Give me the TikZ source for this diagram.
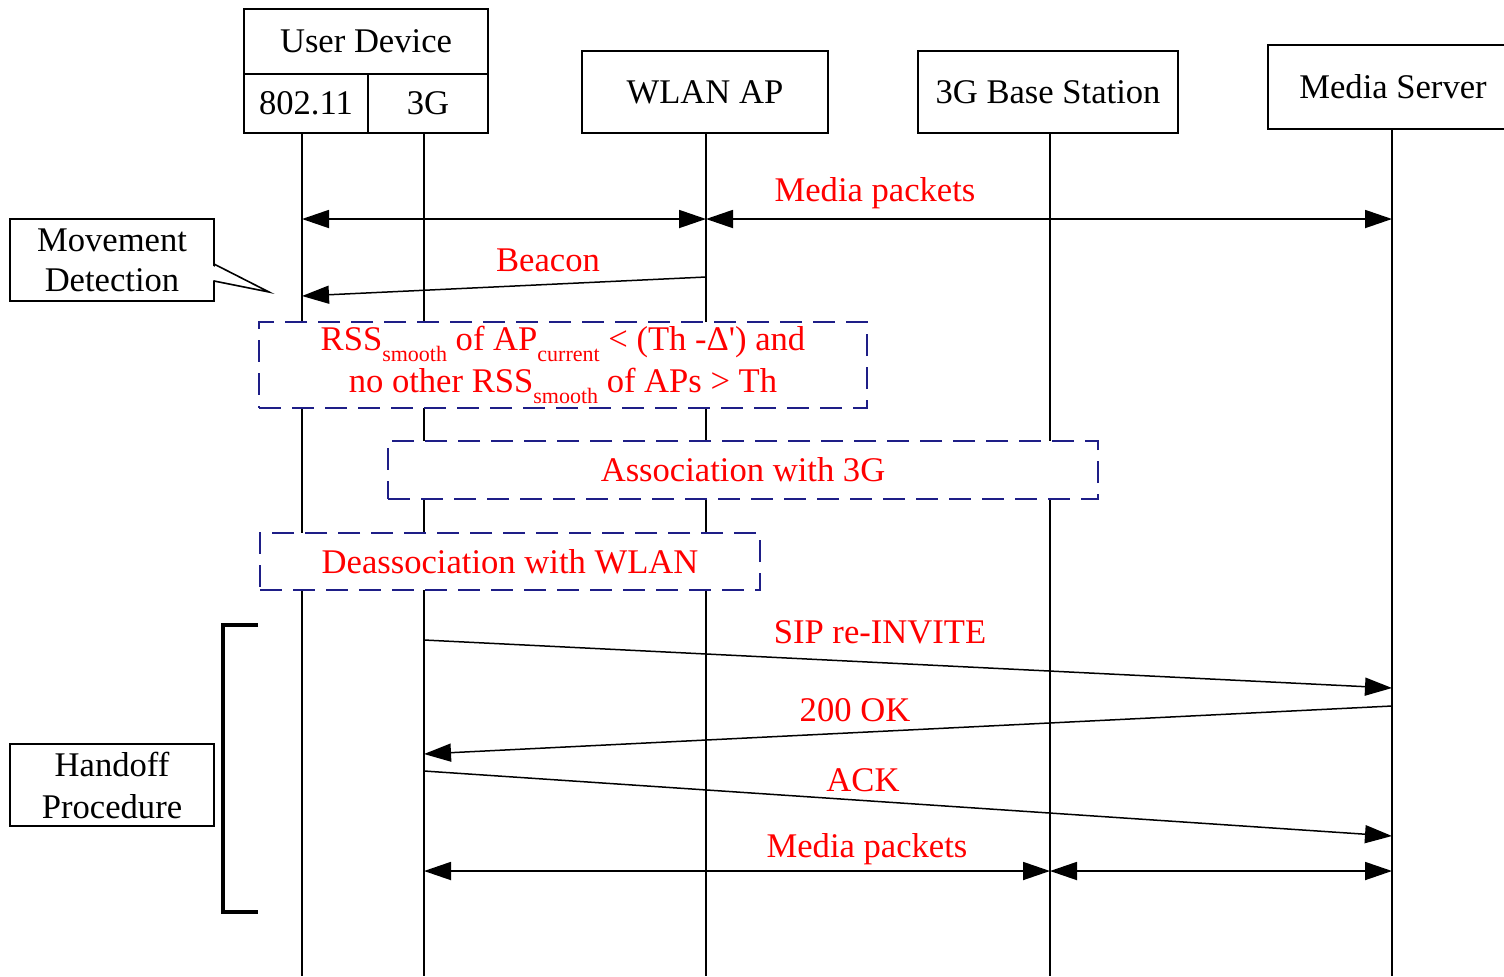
\documentclass[tikz,border=0pt]{standalone}
\usepackage{fontspec}
\setmainfont{Liberation Serif}
\usetikzlibrary{arrows.meta}

\definecolor{msgred}{RGB}{255,0,0}
\definecolor{guardblue}{RGB}{30,30,135}

% lowered small index text, e.g. RSS_smooth
\newcommand{\lowidx}[1]{\raisebox{-0.32em}{\fontsize{11}{11}\selectfont #1}}

\tikzset{
  every node/.style={font=\fontsize{17.3}{20.5}\selectfont},
  headbox/.style={draw, line width=1pt, inner sep=0pt},
  notebox/.style={draw, line width=0.9pt, inner sep=0pt, align=center,
                  minimum width=102pt, minimum height=41pt},
  lifeline/.style={line width=0.8pt},
  tip/.tip={Triangle[length=13.5pt,width=9pt]},
  msg/.style={line width=0.75pt, -tip},
  duplex/.style={line width=0.9pt, tip-tip},
  guard/.style={draw=guardblue, dash pattern=on 11pt off 5.5pt,
                line width=0.9pt, fill=white, inner sep=0pt,
                text=msgred, align=center},
  lbl/.style={text=msgred, anchor=base, inner sep=0pt},
}

\begin{document}
\begin{tikzpicture}[x=0.5pt, y=-0.5pt]
\useasboundingbox (0,0) rectangle (1504,976);

% ---- participants ----
\node[headbox, minimum width=122pt, minimum height=32.5pt] (ud) at (366,41.5) {User Device};
\node[headbox, minimum width=62pt, minimum height=29.5pt] (wifi) at (306,103.5) {802.11};
\node[headbox, minimum width=60pt, minimum height=29.5pt] (umts) at (428,103.5) {3G};
\node[headbox, minimum width=123pt, minimum height=41pt] (ap) at (705,92) {WLAN AP};
\node[headbox, minimum width=130pt, minimum height=41pt] (bs) at (1048,92) {3G Base Station};
\node[headbox, minimum width=125pt, minimum height=42pt] (ms) at (1393,87) {Media Server};

% ---- lifelines ----
\coordinate (wifiT) at (302,133);  \coordinate (wifiB) at (302,976);
\coordinate (umtsT) at (424,133);  \coordinate (umtsB) at (424,976);
\coordinate (apT)   at (706,133);  \coordinate (apB)   at (706,976);
\coordinate (bsT)   at (1050,133); \coordinate (bsB)   at (1050,976);
\coordinate (msT)   at (1392,129); \coordinate (msB)   at (1392,976);
\draw[lifeline] (wifiT) -- (wifiB);
\draw[lifeline] (umtsT) -- (umtsB);
\draw[lifeline] (apT) -- (apB);
\draw[lifeline] (bsT) -- (bsB);
\draw[lifeline] (msT) -- (msB);

% ---- media over WLAN ----
\coordinate (m1a) at (302,219);
\coordinate (m1b) at (706,219);
\coordinate (m1c) at (1392,219);
\draw[duplex] (m1a) -- (m1b);
\draw[duplex] (m1b) -- (m1c);
\node[lbl] (m1l) at (875,201) {Media packets};

% ---- beacon ----
\coordinate (bcS) at (706,277);
\coordinate (bcE) at (302,296);
\draw[msg] (bcS) -- (bcE);
\node[lbl] (bcl) at (548,271) {Beacon};

% ---- movement detection note ----
\node[notebox] (move) at (112,260) {Movement\\[-0.5pt]Detection};
\coordinate (mvA) at (214,264);
\coordinate (mvB) at (214,281);
\coordinate (mvTip) at (269,292);
\fill[white] (212,265.5) -- (266,291.5) -- (212,280) -- cycle;
\draw[line width=0.8pt] (mvA) -- (mvTip) -- (mvB);

% ---- conditions and phases ----
\node[guard, minimum width=304pt, minimum height=43pt] (cond) at (563,365)
  {RSS\lowidx{smooth} of AP\lowidx{current} < (Th -Δ\textquotesingle) and\\[0.5pt]
   no other RSS\lowidx{smooth} of APs > Th};
\node[guard, minimum width=355pt, minimum height=29pt] (assoc) at (743,470)
  {Association with 3G};
\node[guard, minimum width=250pt, minimum height=28.5pt] (deassoc) at (510,561.5)
  {Deassociation with WLAN};

% ---- handoff signalling ----
\coordinate (sipS) at (424,640);  \coordinate (sipE) at (1392,688);
\coordinate (okS)  at (1392,706); \coordinate (okE)  at (424,754);
\coordinate (ackS) at (424,771);  \coordinate (ackE) at (1392,836);
\draw[msg] (sipS) -- (sipE);
\draw[msg] (okS) -- (okE);
\draw[msg] (ackS) -- (ackE);
\node[lbl] (sipl) at (880,643) {SIP re-INVITE};
\node[lbl] (okl)  at (855,721) {200 OK};
\node[lbl] (ackl) at (863,791) {ACK};

% ---- media over 3G ----
\coordinate (m2a) at (424,871);
\coordinate (m2b) at (1050,871);
\coordinate (m2c) at (1392,871);
\draw[duplex] (m2a) -- (m2b);
\draw[duplex] (m2b) -- (m2c);
\node[lbl] (m2l) at (867,857) {Media packets};

% ---- handoff procedure bracket ----
\draw[line width=2pt] (258,625) -- (223,625) -- (223,912) -- (258,912);
\node[notebox] (hand) at (112,785) {Handoff\\[0.5pt]Procedure};

\end{tikzpicture}
\end{document}
